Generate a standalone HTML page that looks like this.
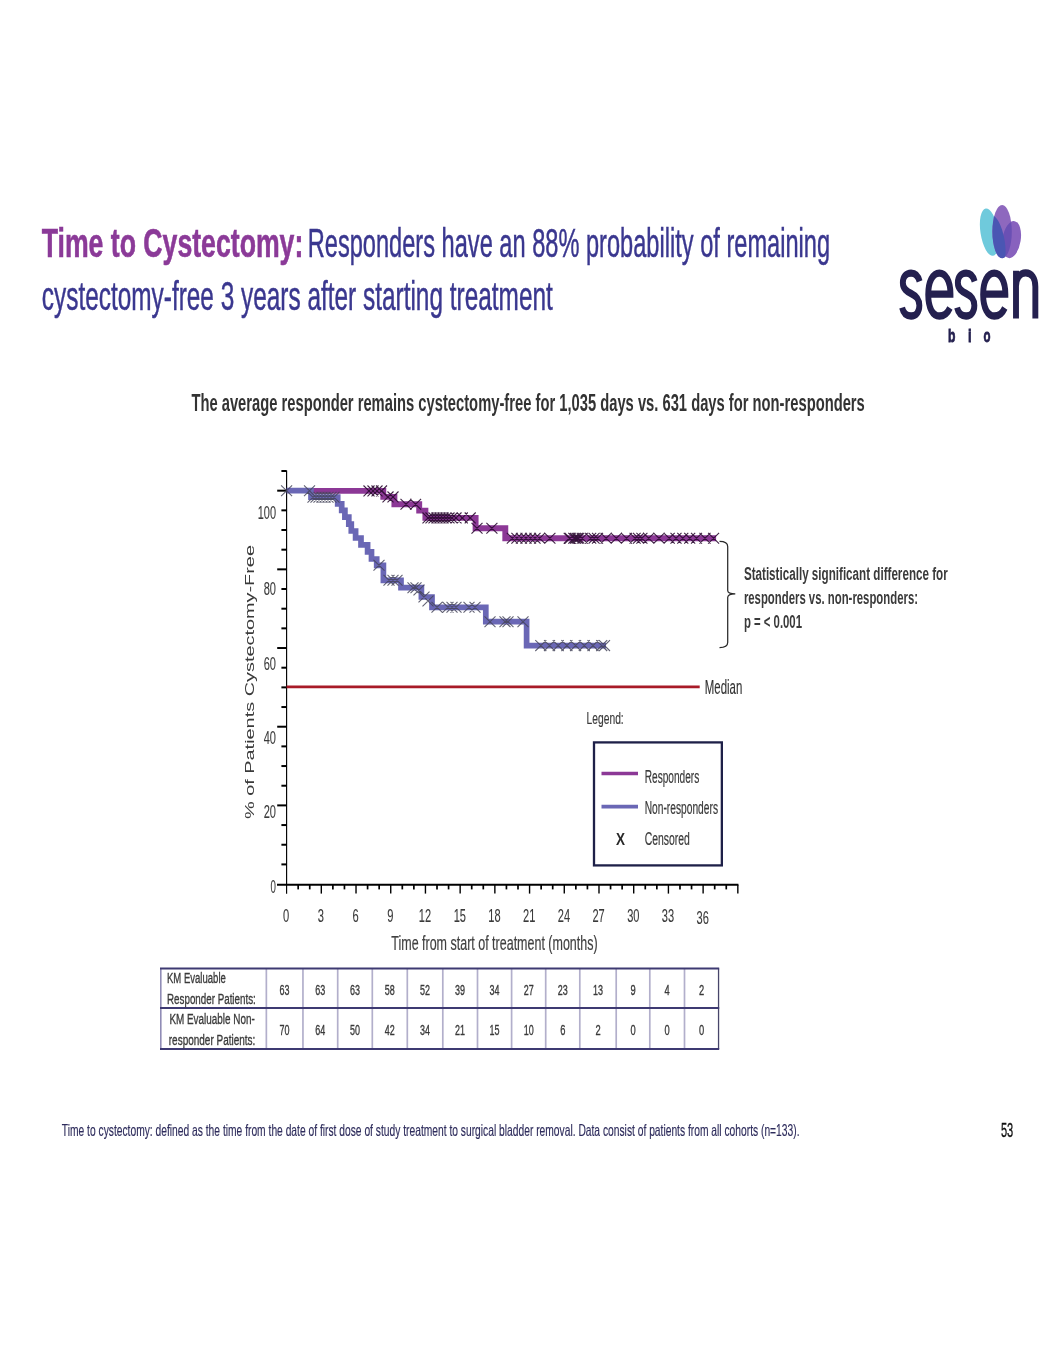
<!DOCTYPE html>
<html><head><meta charset="utf-8"><title>Time to Cystectomy</title>
<style>
html,body{margin:0;padding:0;background:#fff;}
body{width:1055px;height:1365px;overflow:hidden;}
svg{display:block;font-family:"Liberation Sans", sans-serif;will-change:transform;}
</style></head>
<body>
<svg width="1055" height="1365" viewBox="0 0 1055 1365">
<rect width="1055" height="1365" fill="#ffffff"/>
<text x="41.7" y="257.0" font-size="40.5" font-weight="bold" textLength="261.6" lengthAdjust="spacingAndGlyphs" fill="#8b3a98" stroke="#8b3a98" stroke-width="0.6">Time to Cystectomy:</text>
<text x="307.7" y="257.0" font-size="40" textLength="522.4" lengthAdjust="spacingAndGlyphs" fill="#3a378f" stroke="#3a378f" stroke-width="0.5">Responders have an 88% probability of remaining</text>
<text x="41.8" y="309.5" font-size="40" textLength="511.0" lengthAdjust="spacingAndGlyphs" fill="#3a378f" stroke="#3a378f" stroke-width="0.5">cystectomy-free 3 years after starting treatment</text>
<g>
<defs>
<clipPath id="mp"><ellipse cx="1002.1" cy="231.6" rx="9.7" ry="26.6"/></clipPath>
<clipPath id="rp"><ellipse cx="1011.6" cy="239.6" rx="9.1" ry="18.7" transform="rotate(9 1011.6 239.6)"/></clipPath>
</defs>
<ellipse cx="989.4" cy="232.2" rx="8.9" ry="23.9" transform="rotate(-9 989.4 232.2)" fill="#6fcadc"/>
<ellipse cx="1002.1" cy="231.6" rx="9.7" ry="26.6" fill="#8e68be"/>
<ellipse cx="1011.6" cy="239.6" rx="9.1" ry="18.7" transform="rotate(9 1011.6 239.6)" fill="#8862be"/>
<g clip-path="url(#mp)">
<rect x="990" y="200" width="40" height="60" fill="#6a50b4" clip-path="url(#rp)"/>
<ellipse cx="995.8" cy="241" rx="8.8" ry="26" transform="rotate(-10 995.8 241)" fill="#4a56b3"/>
</g>
</g>
<path d="M919.60 9.6 C918.20 5 914.80 2.95 911.10 2.95 C906.20 2.95 902.85 6.2 902.85 10.6 C902.85 15.6 907.00 17.6 911.10 19.3 C915.60 21.1 919.35 23.3 919.35 28.9 C919.35 34.2 915.60 37.3 911.10 37.3 C906.60 37.3 903.30 35 902.10 30.6M928.25 19.75 H950.45 C950.45 9 945.60 2.95 939.35 2.95 C932.60 2.95 928.25 10 928.25 20.1 C928.25 30.6 932.60 37.3 939.40 37.3 C944.20 37.3 947.60 35 949.90 30.8M974.60 9.6 C973.20 5 969.80 2.95 966.10 2.95 C961.20 2.95 957.85 6.2 957.85 10.6 C957.85 15.6 962.00 17.6 966.10 19.3 C970.60 21.1 974.35 23.3 974.35 28.9 C974.35 34.2 970.60 37.3 966.10 37.3 C961.60 37.3 958.30 35 957.10 30.6M983.15 19.75 H1005.35 C1005.35 9 1000.50 2.95 994.25 2.95 C987.50 2.95 983.15 10 983.15 20.1 C983.15 30.6 987.50 37.3 994.30 37.3 C999.10 37.3 1002.50 35 1004.80 30.8M1016 1.0 V39.3 M1016 13.5 C1016 7 1020 2.75 1025.7 2.75 C1031.6 2.75 1035.35 7 1035.35 13.8 V39.3" transform="translate(0 269.4) scale(1 1.25)" fill="none" stroke="#24204f" stroke-width="5.9" stroke-linecap="butt"/>
<text x="947.9" y="341.9" font-size="18.6" font-weight="bold" textLength="7.4" lengthAdjust="spacingAndGlyphs" fill="#24204f" stroke="#24204f" stroke-width="0.8">b</text>
<text x="967.9" y="341.9" font-size="18.6" font-weight="bold" textLength="3.6" lengthAdjust="spacingAndGlyphs" fill="#24204f" stroke="#24204f" stroke-width="0.8">i</text>
<text x="983.6" y="341.9" font-size="18.6" font-weight="bold" textLength="7.0" lengthAdjust="spacingAndGlyphs" fill="#24204f" stroke="#24204f" stroke-width="0.8">o</text>
<text x="191.4" y="410.6" font-size="23.5" font-weight="bold" textLength="673.4" lengthAdjust="spacingAndGlyphs" fill="#333333">The average responder remains cystectomy-free for 1,035 days vs. 631 days for non-responders</text>
<line x1="286.6" y1="470.5" x2="286.6" y2="893.8" stroke="#000" stroke-width="1.15"/>
<line x1="277.0" y1="884.7" x2="738.4" y2="884.7" stroke="#000" stroke-width="2.1"/>
<g stroke="#000"><line x1="281.4" y1="471.00" x2="286.6" y2="471.00" stroke-width="2"/><line x1="277.2" y1="490.67" x2="286.6" y2="490.67" stroke-width="2"/><line x1="281.4" y1="510.34" x2="286.6" y2="510.34" stroke-width="2"/><line x1="281.4" y1="530.01" x2="286.6" y2="530.01" stroke-width="2"/><line x1="281.4" y1="549.68" x2="286.6" y2="549.68" stroke-width="2"/><line x1="277.2" y1="569.35" x2="286.6" y2="569.35" stroke-width="2"/><line x1="281.4" y1="589.02" x2="286.6" y2="589.02" stroke-width="2"/><line x1="281.4" y1="608.69" x2="286.6" y2="608.69" stroke-width="2"/><line x1="281.4" y1="628.36" x2="286.6" y2="628.36" stroke-width="2"/><line x1="277.2" y1="648.03" x2="286.6" y2="648.03" stroke-width="2"/><line x1="281.4" y1="667.70" x2="286.6" y2="667.70" stroke-width="2"/><line x1="281.4" y1="687.37" x2="286.6" y2="687.37" stroke-width="2"/><line x1="281.4" y1="707.04" x2="286.6" y2="707.04" stroke-width="2"/><line x1="277.2" y1="726.71" x2="286.6" y2="726.71" stroke-width="2"/><line x1="281.4" y1="746.38" x2="286.6" y2="746.38" stroke-width="2"/><line x1="281.4" y1="766.05" x2="286.6" y2="766.05" stroke-width="2"/><line x1="281.4" y1="785.72" x2="286.6" y2="785.72" stroke-width="2"/><line x1="277.2" y1="805.39" x2="286.6" y2="805.39" stroke-width="2"/><line x1="281.4" y1="825.06" x2="286.6" y2="825.06" stroke-width="2"/><line x1="281.4" y1="844.73" x2="286.6" y2="844.73" stroke-width="2"/><line x1="281.4" y1="864.40" x2="286.6" y2="864.40" stroke-width="2"/><line x1="298.17" y1="884.7" x2="298.17" y2="889.4" stroke-width="1.7"/><line x1="309.74" y1="884.7" x2="309.74" y2="889.4" stroke-width="1.7"/><line x1="321.31" y1="884.7" x2="321.31" y2="893.6" stroke-width="1.4"/><line x1="332.88" y1="884.7" x2="332.88" y2="889.4" stroke-width="1.7"/><line x1="344.45" y1="884.7" x2="344.45" y2="889.4" stroke-width="1.7"/><line x1="356.02" y1="884.7" x2="356.02" y2="893.6" stroke-width="1.4"/><line x1="367.59" y1="884.7" x2="367.59" y2="889.4" stroke-width="1.7"/><line x1="379.16" y1="884.7" x2="379.16" y2="889.4" stroke-width="1.7"/><line x1="390.73" y1="884.7" x2="390.73" y2="893.6" stroke-width="1.4"/><line x1="402.30" y1="884.7" x2="402.30" y2="889.4" stroke-width="1.7"/><line x1="413.87" y1="884.7" x2="413.87" y2="889.4" stroke-width="1.7"/><line x1="425.44" y1="884.7" x2="425.44" y2="893.6" stroke-width="1.4"/><line x1="437.01" y1="884.7" x2="437.01" y2="889.4" stroke-width="1.7"/><line x1="448.58" y1="884.7" x2="448.58" y2="889.4" stroke-width="1.7"/><line x1="460.15" y1="884.7" x2="460.15" y2="893.6" stroke-width="1.4"/><line x1="471.72" y1="884.7" x2="471.72" y2="889.4" stroke-width="1.7"/><line x1="483.29" y1="884.7" x2="483.29" y2="889.4" stroke-width="1.7"/><line x1="494.86" y1="884.7" x2="494.86" y2="893.6" stroke-width="1.4"/><line x1="506.43" y1="884.7" x2="506.43" y2="889.4" stroke-width="1.7"/><line x1="518.00" y1="884.7" x2="518.00" y2="889.4" stroke-width="1.7"/><line x1="529.57" y1="884.7" x2="529.57" y2="893.6" stroke-width="1.4"/><line x1="541.14" y1="884.7" x2="541.14" y2="889.4" stroke-width="1.7"/><line x1="552.71" y1="884.7" x2="552.71" y2="889.4" stroke-width="1.7"/><line x1="564.28" y1="884.7" x2="564.28" y2="893.6" stroke-width="1.4"/><line x1="575.85" y1="884.7" x2="575.85" y2="889.4" stroke-width="1.7"/><line x1="587.42" y1="884.7" x2="587.42" y2="889.4" stroke-width="1.7"/><line x1="598.99" y1="884.7" x2="598.99" y2="893.6" stroke-width="1.4"/><line x1="610.56" y1="884.7" x2="610.56" y2="889.4" stroke-width="1.7"/><line x1="622.13" y1="884.7" x2="622.13" y2="889.4" stroke-width="1.7"/><line x1="633.70" y1="884.7" x2="633.70" y2="893.6" stroke-width="1.4"/><line x1="645.27" y1="884.7" x2="645.27" y2="889.4" stroke-width="1.7"/><line x1="656.84" y1="884.7" x2="656.84" y2="889.4" stroke-width="1.7"/><line x1="668.41" y1="884.7" x2="668.41" y2="893.6" stroke-width="1.4"/><line x1="679.98" y1="884.7" x2="679.98" y2="889.4" stroke-width="1.7"/><line x1="691.55" y1="884.7" x2="691.55" y2="889.4" stroke-width="1.7"/><line x1="703.12" y1="884.7" x2="703.12" y2="893.6" stroke-width="1.4"/><line x1="714.69" y1="884.7" x2="714.69" y2="889.4" stroke-width="1.7"/><line x1="726.26" y1="884.7" x2="726.26" y2="889.4" stroke-width="1.7"/><line x1="737.83" y1="884.7" x2="737.83" y2="893.6" stroke-width="1.4"/></g>
<text x="276.0" y="518.7" font-size="19.2" text-anchor="end" textLength="18.3" lengthAdjust="spacingAndGlyphs" fill="#3a3a3a" stroke="#3a3a3a" stroke-width="0.1">100</text>
<text x="276.0" y="595.3" font-size="19.2" text-anchor="end" textLength="12.3" lengthAdjust="spacingAndGlyphs" fill="#3a3a3a" stroke="#3a3a3a" stroke-width="0.1">80</text>
<text x="276.0" y="669.5" font-size="19.2" text-anchor="end" textLength="12.3" lengthAdjust="spacingAndGlyphs" fill="#3a3a3a" stroke="#3a3a3a" stroke-width="0.1">60</text>
<text x="276.0" y="744.0" font-size="19.2" text-anchor="end" textLength="12.3" lengthAdjust="spacingAndGlyphs" fill="#3a3a3a" stroke="#3a3a3a" stroke-width="0.1">40</text>
<text x="276.0" y="817.6" font-size="19.2" text-anchor="end" textLength="12.3" lengthAdjust="spacingAndGlyphs" fill="#3a3a3a" stroke="#3a3a3a" stroke-width="0.1">20</text>
<text x="276.0" y="892.7" font-size="19.2" text-anchor="end" textLength="5.4" lengthAdjust="spacingAndGlyphs" fill="#3a3a3a" stroke="#3a3a3a" stroke-width="0.1">0</text>
<text x="286.2" y="921.9" font-size="17.8" text-anchor="middle" textLength="6.2" lengthAdjust="spacingAndGlyphs" fill="#3a3a3a" stroke="#3a3a3a" stroke-width="0.1">0</text>
<text x="320.9" y="921.9" font-size="17.8" text-anchor="middle" textLength="6.2" lengthAdjust="spacingAndGlyphs" fill="#3a3a3a" stroke="#3a3a3a" stroke-width="0.1">3</text>
<text x="355.6" y="921.9" font-size="17.8" text-anchor="middle" textLength="6.2" lengthAdjust="spacingAndGlyphs" fill="#3a3a3a" stroke="#3a3a3a" stroke-width="0.1">6</text>
<text x="390.3" y="921.9" font-size="17.8" text-anchor="middle" textLength="6.2" lengthAdjust="spacingAndGlyphs" fill="#3a3a3a" stroke="#3a3a3a" stroke-width="0.1">9</text>
<text x="425.0" y="921.9" font-size="17.8" text-anchor="middle" textLength="12.3" lengthAdjust="spacingAndGlyphs" fill="#3a3a3a" stroke="#3a3a3a" stroke-width="0.1">12</text>
<text x="459.8" y="921.9" font-size="17.8" text-anchor="middle" textLength="12.3" lengthAdjust="spacingAndGlyphs" fill="#3a3a3a" stroke="#3a3a3a" stroke-width="0.1">15</text>
<text x="494.5" y="921.9" font-size="17.8" text-anchor="middle" textLength="12.3" lengthAdjust="spacingAndGlyphs" fill="#3a3a3a" stroke="#3a3a3a" stroke-width="0.1">18</text>
<text x="529.2" y="921.9" font-size="17.8" text-anchor="middle" textLength="12.3" lengthAdjust="spacingAndGlyphs" fill="#3a3a3a" stroke="#3a3a3a" stroke-width="0.1">21</text>
<text x="563.9" y="921.9" font-size="17.8" text-anchor="middle" textLength="12.3" lengthAdjust="spacingAndGlyphs" fill="#3a3a3a" stroke="#3a3a3a" stroke-width="0.1">24</text>
<text x="598.6" y="921.9" font-size="17.8" text-anchor="middle" textLength="12.3" lengthAdjust="spacingAndGlyphs" fill="#3a3a3a" stroke="#3a3a3a" stroke-width="0.1">27</text>
<text x="633.3" y="921.9" font-size="17.8" text-anchor="middle" textLength="12.3" lengthAdjust="spacingAndGlyphs" fill="#3a3a3a" stroke="#3a3a3a" stroke-width="0.1">30</text>
<text x="668.0" y="921.9" font-size="17.8" text-anchor="middle" textLength="12.3" lengthAdjust="spacingAndGlyphs" fill="#3a3a3a" stroke="#3a3a3a" stroke-width="0.1">33</text>
<text x="702.7" y="924.4" font-size="17.8" text-anchor="middle" textLength="12.3" lengthAdjust="spacingAndGlyphs" fill="#3a3a3a" stroke="#3a3a3a" stroke-width="0.1">36</text>
<text x="391.3" y="950.1" font-size="20.5" textLength="206.3" lengthAdjust="spacingAndGlyphs" fill="#404040" stroke="#404040" stroke-width="0.2">Time from start of treatment (months)</text>
<text transform="translate(253.5 819) rotate(-90)" font-size="12.4" textLength="274" lengthAdjust="spacingAndGlyphs" fill="#3a3a3a">% of Patients Cystectomy-Free</text>
<line x1="286.6" y1="686.9" x2="699.7" y2="686.9" stroke="#a81b28" stroke-width="2.6"/>
<text x="704.8" y="693.5" font-size="20.5" textLength="37.5" lengthAdjust="spacingAndGlyphs" fill="#333333" stroke="#333333" stroke-width="0.15">Median</text>
<path d="M311.0 490.9 L383.3 490.9 L383.3 496.9 L394.4 496.9 L394.4 504.2 L419.2 504.2 L419.2 510.6 L425.4 510.6 L425.4 517.9 L475.6 517.9 L475.6 528.3 L505.3 528.3 L505.3 538.3 L716.1 538.3" fill="none" stroke="#8c3896" stroke-width="5.9" stroke-linejoin="miter" stroke-linecap="butt"/>
<path d="M286.6 490.7 L311.0 490.7 L311.0 497.2 L337.7 497.2 L337.7 503.8 L341.7 503.8 L341.7 510.3 L344.9 510.3 L344.9 517.1 L348.8 517.1 L348.8 524.2 L351.3 524.2 L351.3 531.0 L355.6 531.0 L355.6 538.0 L361.0 538.0 L361.0 544.8 L367.6 544.8 L367.6 551.8 L371.5 551.8 L371.5 559.0 L376.7 559.0 L376.7 565.3 L383.4 565.3 L383.4 580.3 L401.0 580.3 L401.0 587.7 L421.4 587.7 L421.4 597.0 L432.0 597.0 L432.0 607.3 L485.8 607.3 L485.8 621.7 L526.6 621.7 L526.6 645.6 L606.0 645.6" fill="none" stroke="#6a67b5" stroke-width="5.7" stroke-linejoin="miter" stroke-linecap="butt"/>
<path d="M363.5 485.5L374.5 496.3M363.5 496.3L374.5 485.5M367.5 485.5L378.5 496.3M367.5 496.3L378.5 485.5M371.5 485.5L382.5 496.3M371.5 496.3L382.5 485.5M376.0 485.5L387.0 496.3M376.0 496.3L387.0 485.5M382.5 491.5L393.5 502.3M382.5 502.3L393.5 491.5M387.5 491.5L398.5 502.3M387.5 502.3L398.5 491.5M400.5 498.8L411.5 509.6M400.5 509.6L411.5 498.8M410.1 498.8L421.1 509.6M410.1 509.6L421.1 498.8M422.5 512.5L433.5 523.3M422.5 523.3L433.5 512.5M425.5 512.5L436.5 523.3M425.5 523.3L436.5 512.5M428.5 512.5L439.5 523.3M428.5 523.3L439.5 512.5M431.5 512.5L442.5 523.3M431.5 523.3L442.5 512.5M434.5 512.5L445.5 523.3M434.5 523.3L445.5 512.5M437.5 512.5L448.5 523.3M437.5 523.3L448.5 512.5M440.5 512.5L451.5 523.3M440.5 523.3L451.5 512.5M443.5 512.5L454.5 523.3M443.5 523.3L454.5 512.5M446.5 512.5L457.5 523.3M446.5 523.3L457.5 512.5M450.5 512.5L461.5 523.3M450.5 523.3L461.5 512.5M456.8 512.5L467.8 523.3M456.8 523.3L467.8 512.5M464.7 512.5L475.7 523.3M464.7 523.3L475.7 512.5M471.5 522.9L482.5 533.7M471.5 533.7L482.5 522.9M486.4 522.9L497.4 533.7M486.4 533.7L497.4 522.9M506.8 532.9L517.8 543.7M506.8 543.7L517.8 532.9M511.4 532.9L522.4 543.7M511.4 543.7L522.4 532.9M515.9 532.9L526.9 543.7M515.9 543.7L526.9 532.9M520.5 532.9L531.5 543.7M520.5 543.7L531.5 532.9M525.0 532.9L536.0 543.7M525.0 543.7L536.0 532.9M529.5 532.9L540.5 543.7M529.5 543.7L540.5 532.9M534.1 532.9L545.1 543.7M534.1 543.7L545.1 532.9M544.4 532.9L555.4 543.7M544.4 543.7L555.4 532.9M563.7 532.9L574.7 543.7M563.7 543.7L574.7 532.9M568.3 532.9L579.3 543.7M568.3 543.7L579.3 532.9M571.7 532.9L582.7 543.7M571.7 543.7L582.7 532.9M564.7 532.9L575.7 543.7M564.7 543.7L575.7 532.9M569.9 532.9L580.9 543.7M569.9 543.7L580.9 532.9M573.3 532.9L584.3 543.7M573.3 543.7L584.3 532.9M576.7 532.9L587.7 543.7M576.7 543.7L587.7 532.9M585.2 532.9L596.2 543.7M585.2 543.7L596.2 532.9M588.6 532.9L599.6 543.7M588.6 543.7L599.6 532.9M592.0 532.9L603.0 543.7M592.0 543.7L603.0 532.9M600.6 532.9L611.6 543.7M600.6 543.7L611.6 532.9M610.8 532.9L621.8 543.7M610.8 543.7L621.8 532.9M621.0 532.9L632.0 543.7M621.0 543.7L632.0 532.9M629.6 532.9L640.6 543.7M629.6 543.7L640.6 532.9M633.0 532.9L644.0 543.7M633.0 543.7L644.0 532.9M636.4 532.9L647.4 543.7M636.4 543.7L647.4 532.9M643.2 532.9L654.2 543.7M643.2 543.7L654.2 532.9M653.5 532.9L664.5 543.7M653.5 543.7L664.5 532.9M663.7 532.9L674.7 543.7M663.7 543.7L674.7 532.9M670.5 532.9L681.5 543.7M670.5 543.7L681.5 532.9M677.3 532.9L688.3 543.7M677.3 543.7L688.3 532.9M684.2 532.9L695.2 543.7M684.2 543.7L695.2 532.9M691.0 532.9L702.0 543.7M691.0 543.7L702.0 532.9M699.5 532.9L710.5 543.7M699.5 543.7L710.5 532.9M708.1 532.9L719.1 543.7M708.1 543.7L719.1 532.9" stroke="#2b0b31" stroke-width="1.1" fill="none" stroke-opacity="0.9"/>
<path d="M281.1 485.3L292.1 496.1M281.1 496.1L292.1 485.3M304.0 485.3L315.0 496.1M304.0 496.1L315.0 485.3M307.5 491.8L318.5 502.6M307.5 502.6L318.5 491.8M310.5 491.8L321.5 502.6M310.5 502.6L321.5 491.8M313.5 491.8L324.5 502.6M313.5 502.6L324.5 491.8M316.5 491.8L327.5 502.6M316.5 502.6L327.5 491.8M319.5 491.8L330.5 502.6M319.5 502.6L330.5 491.8M322.5 491.8L333.5 502.6M322.5 502.6L333.5 491.8M325.5 491.8L336.5 502.6M325.5 502.6L336.5 491.8M328.5 491.8L339.5 502.6M328.5 502.6L339.5 491.8M373.5 559.9L384.5 570.7M373.5 570.7L384.5 559.9M383.5 574.9L394.5 585.7M383.5 585.7L394.5 574.9M387.5 574.9L398.5 585.7M387.5 585.7L398.5 574.9M391.5 574.9L402.5 585.7M391.5 585.7L402.5 574.9M407.5 582.3L418.5 593.1M407.5 593.1L418.5 582.3M410.5 582.3L421.5 593.1M410.5 593.1L421.5 582.3M413.5 584.6L424.5 595.4M413.5 595.4L424.5 584.6M418.5 591.6L429.5 602.4M418.5 602.4L429.5 591.6M422.5 595.6L433.5 606.4M422.5 606.4L433.5 595.6M431.5 601.9L442.5 612.7M431.5 612.7L442.5 601.9M442.5 601.9L453.5 612.7M442.5 612.7L453.5 601.9M446.5 601.9L457.5 612.7M446.5 612.7L457.5 601.9M450.5 601.9L461.5 612.7M450.5 612.7L461.5 601.9M463.5 601.9L474.5 612.7M463.5 612.7L474.5 601.9M469.5 601.9L480.5 612.7M469.5 612.7L480.5 601.9M484.5 616.3L495.5 627.1M484.5 627.1L495.5 616.3M499.5 616.3L510.5 627.1M499.5 627.1L510.5 616.3M502.5 616.3L513.5 627.1M502.5 627.1L513.5 616.3M517.5 616.3L528.5 627.1M517.5 627.1L528.5 616.3M535.3 640.2L546.3 651.0M535.3 651.0L546.3 640.2M544.0 640.2L555.0 651.0M544.0 651.0L555.0 640.2M552.7 640.2L563.7 651.0M552.7 651.0L563.7 640.2M561.4 640.2L572.4 651.0M561.4 651.0L572.4 640.2M570.1 640.2L581.1 651.0M570.1 651.0L581.1 640.2M578.8 640.2L589.8 651.0M578.8 651.0L589.8 640.2M587.5 640.2L598.5 651.0M587.5 651.0L598.5 640.2M596.2 640.2L607.2 651.0M596.2 651.0L607.2 640.2M599.0 640.2L610.0 651.0M599.0 651.0L610.0 640.2" stroke="#45455a" stroke-width="1.1" fill="none" stroke-opacity="0.85"/>
<path d="M719.5 541.3 Q727.7 541.3 727.7 546.5 L727.7 590.5 Q727.7 593.9 735.3 593.9 Q727.7 593.9 727.7 597.5 L727.7 642.5 Q727.7 647.6 719.5 647.6" fill="none" stroke="#2a2a2a" stroke-width="1.25"/>
<text x="743.9" y="579.6" font-size="17.5" font-weight="bold" textLength="203.8" lengthAdjust="spacingAndGlyphs" fill="#3a3a3a">Statistically significant difference for</text>
<text x="743.9" y="603.8" font-size="17.5" font-weight="bold" textLength="174.1" lengthAdjust="spacingAndGlyphs" fill="#3a3a3a">responders vs. non-responders:</text>
<text x="743.9" y="627.7" font-size="17.5" font-weight="bold" textLength="58.1" lengthAdjust="spacingAndGlyphs" fill="#3a3a3a">p = &lt; 0.001</text>
<text x="586.6" y="724.3" font-size="15.7" textLength="37.1" lengthAdjust="spacingAndGlyphs" fill="#3a3a3a" stroke="#3a3a3a" stroke-width="0.15">Legend:</text>
<rect x="594.0" y="742.4" width="127.85" height="123.0" fill="none" stroke="#1e2048" stroke-width="2.3"/>
<line x1="601.5" y1="773.5" x2="638" y2="773.5" stroke="#8c3896" stroke-width="3.6"/>
<line x1="601.5" y1="806.6" x2="638" y2="806.6" stroke="#6a67b5" stroke-width="3.6"/>
<text x="616.0" y="845.0" font-size="16.5" font-weight="bold" textLength="9.0" lengthAdjust="spacingAndGlyphs" fill="#2a2a2a">X</text>
<text x="644.7" y="783.2" font-size="17.5" textLength="54.6" lengthAdjust="spacingAndGlyphs" fill="#3a3a3a" stroke="#3a3a3a" stroke-width="0.2">Responders</text>
<text x="644.7" y="814.4" font-size="17.5" textLength="73.3" lengthAdjust="spacingAndGlyphs" fill="#3a3a3a" stroke="#3a3a3a" stroke-width="0.2">Non-responders</text>
<text x="644.7" y="845.0" font-size="17.5" textLength="45.1" lengthAdjust="spacingAndGlyphs" fill="#3a3a3a" stroke="#3a3a3a" stroke-width="0.2">Censored</text>
<line x1="266.35" y1="968.5" x2="266.35" y2="1049" stroke="#b2afcb" stroke-width="1.7"/><line x1="302.95" y1="968.5" x2="302.95" y2="1049" stroke="#b2afcb" stroke-width="1.7"/><line x1="337.7" y1="968.5" x2="337.7" y2="1049" stroke="#b2afcb" stroke-width="1.7"/><line x1="372.3" y1="968.5" x2="372.3" y2="1049" stroke="#b2afcb" stroke-width="1.7"/><line x1="407.3" y1="968.5" x2="407.3" y2="1049" stroke="#b2afcb" stroke-width="1.7"/><line x1="442.8" y1="968.5" x2="442.8" y2="1049" stroke="#b2afcb" stroke-width="1.7"/><line x1="477.5" y1="968.5" x2="477.5" y2="1049" stroke="#b2afcb" stroke-width="1.7"/><line x1="511.6" y1="968.5" x2="511.6" y2="1049" stroke="#b2afcb" stroke-width="1.7"/><line x1="545.7" y1="968.5" x2="545.7" y2="1049" stroke="#b2afcb" stroke-width="1.7"/><line x1="579.8" y1="968.5" x2="579.8" y2="1049" stroke="#b2afcb" stroke-width="1.7"/><line x1="616.2" y1="968.5" x2="616.2" y2="1049" stroke="#b2afcb" stroke-width="1.7"/><line x1="649.8" y1="968.5" x2="649.8" y2="1049" stroke="#b2afcb" stroke-width="1.7"/><line x1="684.5" y1="968.5" x2="684.5" y2="1049" stroke="#b2afcb" stroke-width="1.7"/>
<line x1="160.8" y1="968.5" x2="160.8" y2="1049" stroke="#908cb6" stroke-width="1.6"/>
<line x1="718.55" y1="968.5" x2="718.55" y2="1049" stroke="#47456a" stroke-width="1.3"/>
<path d="M160 968.45 H719.2 M160 1007.95 H719.2 M160 1049.05 H719.2" stroke="#3e3a72" stroke-width="1.9"/>
<text x="167.0" y="982.6" font-size="15.5" textLength="58.8" lengthAdjust="spacingAndGlyphs" fill="#3a3a3a" stroke="#3a3a3a" stroke-width="0.35">KM Evaluable</text>
<text x="167.0" y="1003.9" font-size="15.5" textLength="88.8" lengthAdjust="spacingAndGlyphs" fill="#3a3a3a" stroke="#3a3a3a" stroke-width="0.35">Responder Patients:</text>
<text x="169.4" y="1023.8" font-size="15.5" textLength="85.3" lengthAdjust="spacingAndGlyphs" fill="#3a3a3a" stroke="#3a3a3a" stroke-width="0.35">KM Evaluable Non-</text>
<text x="168.8" y="1045.4" font-size="15.5" textLength="86.5" lengthAdjust="spacingAndGlyphs" fill="#3a3a3a" stroke="#3a3a3a" stroke-width="0.35">responder Patients:</text>
<text x="284.6" y="994.8" font-size="14.5" text-anchor="middle" textLength="10.0" lengthAdjust="spacingAndGlyphs" fill="#3a3a3a" stroke="#3a3a3a" stroke-width="0.35">63</text>
<text x="284.6" y="1034.6" font-size="14.5" text-anchor="middle" textLength="10.0" lengthAdjust="spacingAndGlyphs" fill="#3a3a3a" stroke="#3a3a3a" stroke-width="0.35">70</text>
<text x="320.3" y="994.8" font-size="14.5" text-anchor="middle" textLength="10.0" lengthAdjust="spacingAndGlyphs" fill="#3a3a3a" stroke="#3a3a3a" stroke-width="0.35">63</text>
<text x="320.3" y="1034.6" font-size="14.5" text-anchor="middle" textLength="10.0" lengthAdjust="spacingAndGlyphs" fill="#3a3a3a" stroke="#3a3a3a" stroke-width="0.35">64</text>
<text x="355.0" y="994.8" font-size="14.5" text-anchor="middle" textLength="10.0" lengthAdjust="spacingAndGlyphs" fill="#3a3a3a" stroke="#3a3a3a" stroke-width="0.35">63</text>
<text x="355.0" y="1034.6" font-size="14.5" text-anchor="middle" textLength="10.0" lengthAdjust="spacingAndGlyphs" fill="#3a3a3a" stroke="#3a3a3a" stroke-width="0.35">50</text>
<text x="389.8" y="994.8" font-size="14.5" text-anchor="middle" textLength="10.0" lengthAdjust="spacingAndGlyphs" fill="#3a3a3a" stroke="#3a3a3a" stroke-width="0.35">58</text>
<text x="389.8" y="1034.6" font-size="14.5" text-anchor="middle" textLength="10.0" lengthAdjust="spacingAndGlyphs" fill="#3a3a3a" stroke="#3a3a3a" stroke-width="0.35">42</text>
<text x="425.1" y="994.8" font-size="14.5" text-anchor="middle" textLength="10.0" lengthAdjust="spacingAndGlyphs" fill="#3a3a3a" stroke="#3a3a3a" stroke-width="0.35">52</text>
<text x="425.1" y="1034.6" font-size="14.5" text-anchor="middle" textLength="10.0" lengthAdjust="spacingAndGlyphs" fill="#3a3a3a" stroke="#3a3a3a" stroke-width="0.35">34</text>
<text x="460.1" y="994.8" font-size="14.5" text-anchor="middle" textLength="10.0" lengthAdjust="spacingAndGlyphs" fill="#3a3a3a" stroke="#3a3a3a" stroke-width="0.35">39</text>
<text x="460.1" y="1034.6" font-size="14.5" text-anchor="middle" textLength="10.0" lengthAdjust="spacingAndGlyphs" fill="#3a3a3a" stroke="#3a3a3a" stroke-width="0.35">21</text>
<text x="494.6" y="994.8" font-size="14.5" text-anchor="middle" textLength="10.0" lengthAdjust="spacingAndGlyphs" fill="#3a3a3a" stroke="#3a3a3a" stroke-width="0.35">34</text>
<text x="494.6" y="1034.6" font-size="14.5" text-anchor="middle" textLength="10.0" lengthAdjust="spacingAndGlyphs" fill="#3a3a3a" stroke="#3a3a3a" stroke-width="0.35">15</text>
<text x="528.7" y="994.8" font-size="14.5" text-anchor="middle" textLength="10.0" lengthAdjust="spacingAndGlyphs" fill="#3a3a3a" stroke="#3a3a3a" stroke-width="0.35">27</text>
<text x="528.7" y="1034.6" font-size="14.5" text-anchor="middle" textLength="10.0" lengthAdjust="spacingAndGlyphs" fill="#3a3a3a" stroke="#3a3a3a" stroke-width="0.35">10</text>
<text x="562.8" y="994.8" font-size="14.5" text-anchor="middle" textLength="10.0" lengthAdjust="spacingAndGlyphs" fill="#3a3a3a" stroke="#3a3a3a" stroke-width="0.35">23</text>
<text x="562.8" y="1034.6" font-size="14.5" text-anchor="middle" textLength="5.2" lengthAdjust="spacingAndGlyphs" fill="#3a3a3a" stroke="#3a3a3a" stroke-width="0.35">6</text>
<text x="598.0" y="994.8" font-size="14.5" text-anchor="middle" textLength="10.0" lengthAdjust="spacingAndGlyphs" fill="#3a3a3a" stroke="#3a3a3a" stroke-width="0.35">13</text>
<text x="598.0" y="1034.6" font-size="14.5" text-anchor="middle" textLength="5.2" lengthAdjust="spacingAndGlyphs" fill="#3a3a3a" stroke="#3a3a3a" stroke-width="0.35">2</text>
<text x="633.0" y="994.8" font-size="14.5" text-anchor="middle" textLength="5.2" lengthAdjust="spacingAndGlyphs" fill="#3a3a3a" stroke="#3a3a3a" stroke-width="0.35">9</text>
<text x="633.0" y="1034.6" font-size="14.5" text-anchor="middle" textLength="5.2" lengthAdjust="spacingAndGlyphs" fill="#3a3a3a" stroke="#3a3a3a" stroke-width="0.35">0</text>
<text x="667.1" y="994.8" font-size="14.5" text-anchor="middle" textLength="5.2" lengthAdjust="spacingAndGlyphs" fill="#3a3a3a" stroke="#3a3a3a" stroke-width="0.35">4</text>
<text x="667.1" y="1034.6" font-size="14.5" text-anchor="middle" textLength="5.2" lengthAdjust="spacingAndGlyphs" fill="#3a3a3a" stroke="#3a3a3a" stroke-width="0.35">0</text>
<text x="701.5" y="994.8" font-size="14.5" text-anchor="middle" textLength="5.2" lengthAdjust="spacingAndGlyphs" fill="#3a3a3a" stroke="#3a3a3a" stroke-width="0.35">2</text>
<text x="701.5" y="1034.6" font-size="14.5" text-anchor="middle" textLength="5.2" lengthAdjust="spacingAndGlyphs" fill="#3a3a3a" stroke="#3a3a3a" stroke-width="0.35">0</text>
<text x="61.8" y="1135.6" font-size="16.5" textLength="737.7" lengthAdjust="spacingAndGlyphs" fill="#2e2c5c" stroke="#2e2c5c" stroke-width="0.15">Time to cystectomy: defined as the time from the date of first dose of study treatment to surgical bladder removal. Data consist of patients from all cohorts (n=133).</text>
<text x="1000.9" y="1136.5" font-size="20.5" textLength="12.3" lengthAdjust="spacingAndGlyphs" fill="#111111" stroke="#111111" stroke-width="0.35">53</text>
</svg>
</body></html>
